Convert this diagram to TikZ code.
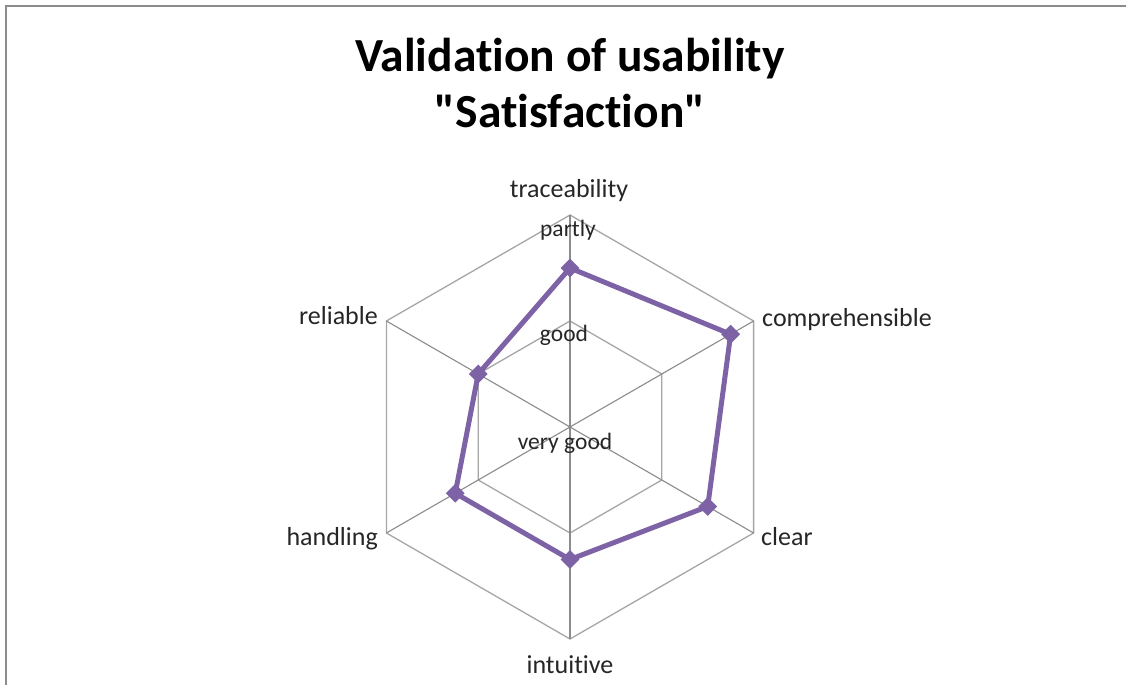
\documentclass[tikz,border=0pt]{standalone}
\usepackage{fontspec}
\setmainfont{Carlito}[Ligatures=CommonOff]
\newfontfamily\plainfont{Carlito}[Ligatures=CommonOff]
\usetikzlibrary{shapes.geometric}
\definecolor{series}{HTML}{7E62A6}
\definecolor{gridc}{HTML}{A6A6A6}
\definecolor{spokec}{HTML}{8C8C8C}
\definecolor{framec}{HTML}{8C8C8C}
\definecolor{txt}{HTML}{262626}
\tikzset{
  axislabel/.style={font=\fontsize{26}{30}\selectfont, text=txt, inner sep=0},
  vallabel/.style={font=\fontsize{23.5}{28}\selectfont, text=txt, inner sep=0, anchor=base},
  titletext/.style={font=\plainfont\fontsize{47.5}{56}\selectfont\bfseries, text=black, inner sep=0, anchor=base},
  ring/.style={draw=gridc, line width=1.3pt},
  spoke/.style={draw=spokec, line width=1.1pt},
  datapt/.style={diamond, fill=series, inner sep=0, minimum size=19pt},
  dataline/.style={draw=series, line width=5pt, line join=round},
}
\begin{document}
\begin{tikzpicture}[x=1pt,y=1pt]
\useasboundingbox (0,0) rectangle (1126,685);
\fill[white] (0,0) rectangle (1126,685);
\draw[framec, line width=2.4pt] (6.2,0) -- (6.2,678.8) -- (1126,678.8);

\node[titletext] (t1) at (570,613) {Validation of usability};
\node[titletext] (t2) at (570,557) {"Satisfaction"};

\begin{scope}[shift={(570,258)}]
  \coordinate (O) at (0,0);
  \foreach \a/\n in {90/A,30/B,-30/C,-90/D,210/E,150/F}{
    \coordinate (o\n) at (\a:212);
    \coordinate (i\n) at (\a:106);
  }
  \draw[ring] (oA)--(oB)--(oC)--(oD)--(oE)--(oF)--cycle;
  \draw[ring] (iA)--(iB)--(iC)--(iD)--(iE)--(iF)--cycle;
  \foreach \n in {A,B,C,D,E,F} \draw[spoke] (O) -- (o\n);

  \node[datapt] (tr) at (90:159) {};
  \node[datapt] (co) at (30:185.5) {};
  \node[datapt] (cl) at (-30:159) {};
  \node[datapt] (in) at (-90:132.5) {};
  \node[datapt] (ha) at (210:132.5) {};
  \node[datapt] (re) at (150:106) {};
  \draw[dataline] (tr.center) -- (co.center) -- (cl.center) -- (in.center) -- (ha.center) -- (re.center) -- cycle;
\end{scope}

\node[vallabel] (vpartly) at (568,448) {partly};
\node[vallabel] (vgood) at (564,343) {good};
\node[vallabel] (vvgood) at (565,235) {very good};

\node[axislabel, anchor=base] (ltr) at (569,487) {traceability};
\node[axislabel, anchor=base west] (lco) at (762,358) {comprehensible};
\node[axislabel, anchor=base west] (lcl) at (761,139) {clear};
\node[axislabel, anchor=base] (lin) at (570,12) {intuitive};
\node[axislabel, anchor=base east] (lha) at (378,139) {handling};
\node[axislabel, anchor=base east] (lre) at (378,360) {reliable};
\end{tikzpicture}
\end{document}
